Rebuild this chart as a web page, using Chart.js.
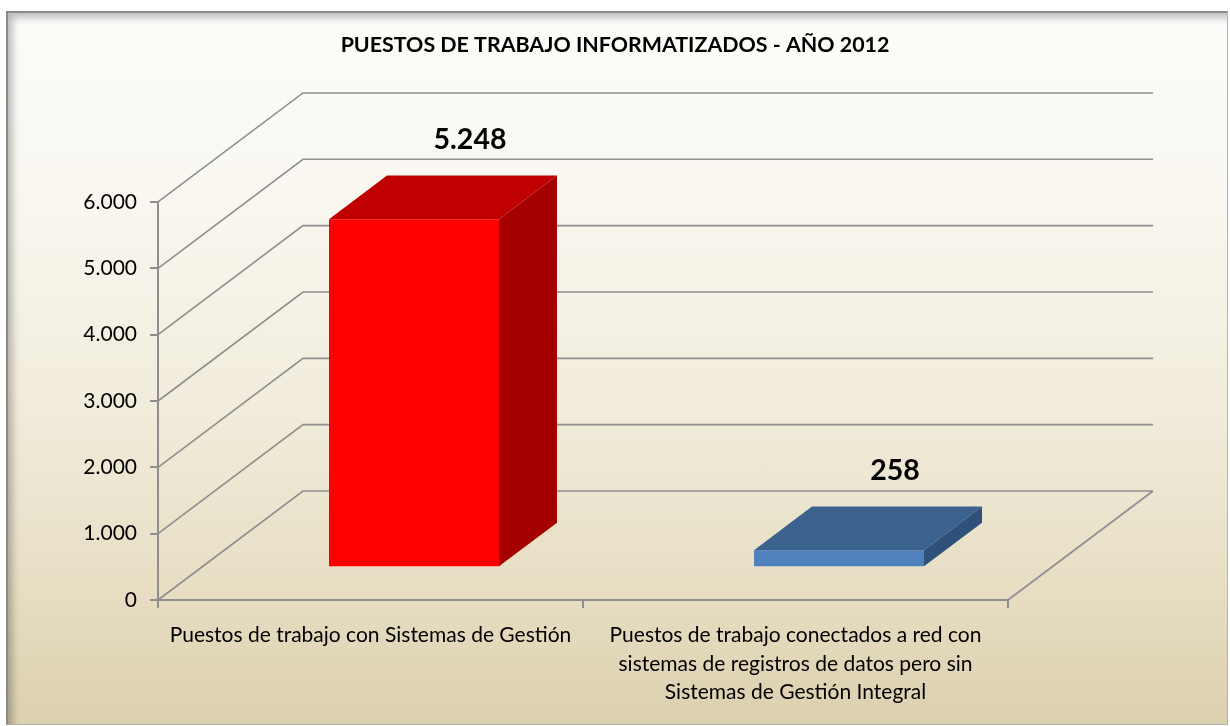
<!DOCTYPE html>
<html>
<head>
<meta charset="utf-8">
<script src="https://cdn.jsdelivr.net/npm/chart.js@4/dist/chart.umd.min.js"></script>
<style>
  html, body { margin: 0; padding: 0; background: #fff; }
  #frame {
    position: absolute; left: 6px; top: 11px; width: 1219px; height: 711px;
    border-top: 2px solid #8a8a8a; border-left: 2px solid #8a8a8a;
    border-right: 1px solid #b8b4a6; border-bottom: 1px solid #b8b4a6;
    background: linear-gradient(to bottom, #fdfcfa 0%, #f9f7f0 25%, #f1ecdc 55%, #e6ddc2 82%, #dbd0ae 100%);
    box-shadow: inset 7px 7px 9px -3px rgba(0,0,0,0.28);
  }
  #c { position: absolute; left: 0; top: 0; }
</style>
</head>
<body>
<div id="frame"></div>
<canvas id="c" width="1230" height="726"></canvas>
<script>
// Datos
const categorias = [
    'Puestos de trabajo con Sistemas de Gestión',
    ['Puestos de trabajo conectados a red con', 'sistemas de registros de datos pero sin', 'Sistemas de Gestión Integral'],
];
const puestos = [5248, 258];
const Y_MAX = 6000;
const Y_STEP = 1000;
const TITULO = 'PUESTOS DE TRABAJO INFORMATIZADOS - AÑO 2012';

// Estilo 3D (caras de cada barra)
const CARAS = [
    { front: '#ff0000', top: '#c00000', side: '#a40000' },
    { front: '#4f81bd', top: '#3b618e', side: '#2f5179' },
];
const DEPTH = { dx: 145, dy: -109 };   // profundidad de las paredes
const BAR_FRONT = 0.30, BAR_BACK = 0.70;
const GRID = '#8e8e8e';
const FONT = 'Lato';

const fmt = v => String(v).replace(/\B(?=(\d{3})+(?!\d))/g, '.');

// ── paredes + caras 3D ────────────────────────────────────────────────────
const bars3d = {
    id: 'bars3d',
    beforeDatasetsDraw(chart) {
        const { ctx, chartArea: a, scales: { y } } = chart;
        ctx.save();
        ctx.strokeStyle = GRID;
        ctx.lineWidth = 1.6;
        ctx.beginPath();
        y.ticks.forEach(t => {
            const py = y.getPixelForValue(t.value);
            ctx.moveTo(a.left, py);
            ctx.lineTo(a.left + DEPTH.dx, py + DEPTH.dy);
            ctx.lineTo(a.right + DEPTH.dx, py + DEPTH.dy);
        });
        // suelo: borde derecho
        ctx.moveTo(a.right, a.bottom);
        ctx.lineTo(a.right + DEPTH.dx, a.bottom + DEPTH.dy);
        ctx.stroke();
        ctx.restore();

        // la cara frontal la dibuja Chart.js, desplazada en profundidad
        ctx.save();
        ctx.translate(DEPTH.dx * BAR_FRONT, DEPTH.dy * BAR_FRONT);
    },
    afterDatasetsDraw(chart) {
        const { ctx } = chart;
        ctx.restore();
        const fx = DEPTH.dx * BAR_FRONT, fy = DEPTH.dy * BAR_FRONT;
        const bx = DEPTH.dx * (BAR_BACK - BAR_FRONT), by = DEPTH.dy * (BAR_BACK - BAR_FRONT);
        const meta = chart.getDatasetMeta(0);
        ctx.save();
        meta.data.forEach((bar, i) => {
            const { x, y, base, width } = bar.getProps(['x', 'y', 'base', 'width'], true);
            const l = x - width / 2 + fx, r = x + width / 2 + fx;
            const t = y + fy, b = base + fy;
            // tapa
            ctx.fillStyle = CARAS[i].top;
            ctx.beginPath();
            ctx.moveTo(l, t); ctx.lineTo(r, t); ctx.lineTo(r + bx, t + by); ctx.lineTo(l + bx, t + by);
            ctx.closePath(); ctx.fill();
            // lateral
            ctx.fillStyle = CARAS[i].side;
            ctx.beginPath();
            ctx.moveTo(r, t); ctx.lineTo(r + bx, t + by); ctx.lineTo(r + bx, b + by); ctx.lineTo(r, b);
            ctx.closePath(); ctx.fill();
            // etiqueta de valor
            ctx.fillStyle = '#000';
            ctx.font = `bold 28.5px ${FONT}`;
            ctx.textAlign = 'center';
            ctx.textBaseline = 'middle';
            ctx.fillText(fmt(puestos[i]), (l + r) / 2 + bx - 2, t + by - 36);
        });
        ctx.restore();
    },
};

new Chart(document.getElementById('c'), {
    type: 'bar',
    data: {
        labels: categorias,
        datasets: [{
            data: puestos,
            backgroundColor: CARAS.map(c => c.front),
            borderWidth: 0,
            barPercentage: 0.4,
            categoryPercentage: 1,
            clip: false,
        }],
    },
    options: {
        responsive: false,
        animation: false,
        layout: { padding: 0 },
        plugins: {
            legend: { display: false },
            tooltip: { enabled: false },
            title: {
                display: true,
                text: TITULO,
                color: '#000',
                font: { family: FONT, size: 21.4, weight: 'bold', lineHeight: 1.2 },
                padding: { top: 32, bottom: 144.3 },
            },
        },
        scales: {
            x: {
                grid: { display: true, drawOnChartArea: false, tickLength: 8, color: GRID, lineWidth: 2 },
                border: { display: true, color: GRID, width: 2 },
                ticks: {
                    color: '#000',
                    font: { family: FONT, size: 21, lineHeight: 1.36 },
                    padding: 13,
                    maxRotation: 0,
                    autoSkip: false,
                },
                afterFit: s => { s.height = 126; },
            },
            y: {
                min: 0,
                max: Y_MAX,
                ticks: {
                    stepSize: Y_STEP,
                    color: '#000',
                    font: { family: FONT, size: 21 },
                    padding: 13,
                    callback: v => fmt(v),
                },
                grid: { display: true, drawOnChartArea: false, tickLength: 8, color: GRID, lineWidth: 2 },
                border: { display: true, color: GRID, width: 2 },
                afterFit: s => { s.width = 158; },
            },
            // espacio reservado a la derecha (profundidad del gráfico)
            margen: {
                position: 'right',
                min: 0,
                max: 1,
                grid: { display: false },
                border: { display: false },
                ticks: { display: false },
                afterFit: s => { s.width = 222; },
            },
        },
    },
    plugins: [bars3d],
});
</script>
</body>
</html>
